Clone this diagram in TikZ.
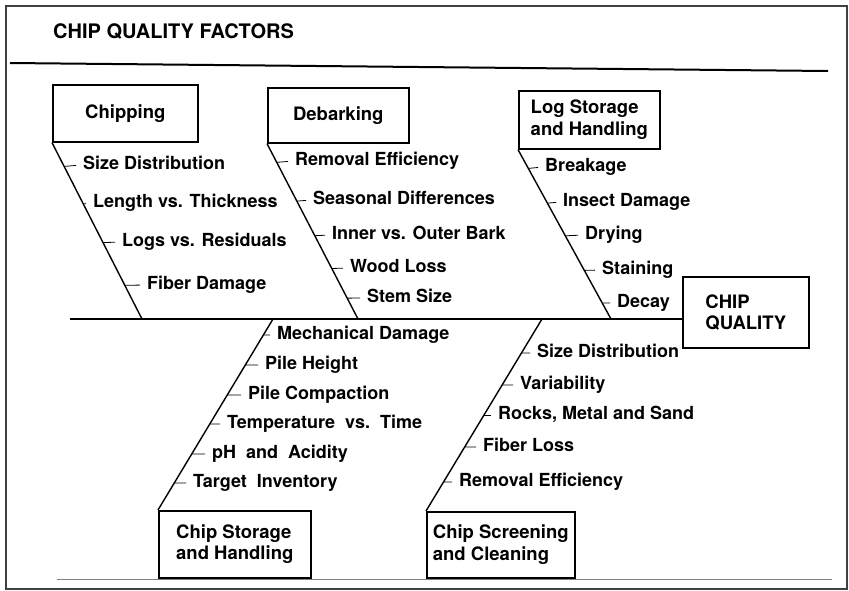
\documentclass[tikz,border=0pt]{standalone}
\usepackage{fontspec}
\setmainfont{TeX Gyre Heros}
\usetikzlibrary{calc}
\tikzset{
   box/.style ={
      rectangle, draw, line width=1.6pt, anchor=north west, align=left,
      font=\fontsize{18.5}{21.5}\selectfont\bfseries,
   },
   bone/.style ={
      -, line width=1.4pt, color=black,
   },
   spine/.style ={
      -, line width=2pt, color=black,
   },
   tick/.style ={
      -, line width=0.8pt, shorten >=5pt,
   },
   item/.style ={
      anchor=west, inner sep=2pt, text height=13pt, text depth=4pt,
      font=\fontsize{18}{21}\selectfont\bfseries,
   },
}

\begin{document}
\begin{tikzpicture}[x=1pt,y=-1pt]

      \useasboundingbox (0,0) rectangle (849,590);
      \draw[line width=1.5pt, black!75] (6,6) rectangle (847,589);

      \node[anchor=west, inner sep=0pt, font=\fontsize{20}{24}\selectfont\bfseries]
         (title) at (53,32) {CHIP QUALITY FACTORS};
      \coordinate (ruleL) at (10,63);
      \coordinate (ruleR) at (828,71);
      \draw[spine] (ruleL) -- (ruleR);
      \coordinate (footL) at (57,579);
      \coordinate (footR) at (832,579);
      \draw[line width=1pt, black!50] (footL) -- (footR);

      % cause boxes
      \node[box, minimum width=145, minimum height=57] (chipping)  at (52,84)  {Chipping};
      \node[box, minimum width=141, minimum height=55] (debarking) at (267,87) {Debarking};
      \node[box, minimum width=141, minimum height=58] (logstore)  at (518,90) {Log Storage\\and Handling};
      \node[box, minimum width=152, minimum height=67] (chipstore) at (158,510) {Chip Storage\\and Handling};
      \node[box, minimum width=148, minimum height=66] (screening) at (426,511) {Chip Screening\\and Cleaning};
      \node[box, minimum width=126, minimum height=71] (quality)   at (682,276) {CHIP\\QUALITY};

      % main spine
      \coordinate (tail) at (70,319);
      \draw[spine] (tail) -- (tail -| quality.west);

      \coordinate (chipEnd) at (142,319);
      \coordinate (debEnd)  at (358,319);
      \coordinate (logEnd)  at (611,319);
      \coordinate (pileEnd) at (273,319);
      \coordinate (scrEnd)  at (542,319);
      \draw[bone] (chipping.south west)  -- (chipEnd);
      \draw[bone] (debarking.south west) -- (debEnd);
      \draw[bone] (logstore.south west)  -- (logEnd);
      \draw[bone] (chipstore.north west) -- (pileEnd);
      \draw[bone] (screening.north west) -- (scrEnd);

      % chipping
      \node[item] (chip1) at (81,165) {Size Distribution};
      \node[item] (chip2) at (91,203) {Length vs. Thickness};
      \node[item] (chip3) at (120,242) {Logs vs. Residuals};
      \node[item] (chip4) at (145,285) {Fiber Damage};
      \draw[tick] ($(chipping.south west)!0.135!(chipEnd)$) -- (chip1.west);
      \draw[tick] ($(chipping.south west)!0.348!(chipEnd)$) -- (chip2.west);
      \draw[tick] ($(chipping.south west)!0.567!(chipEnd)$) -- (chip3.west);
      \draw[tick] ($(chipping.south west)!0.809!(chipEnd)$) -- (chip4.west);

      % debarking
      \node[item] (deb1) at (293,161) {Removal Efficiency};
      \node[item] (deb2) at (311,200) {Seasonal Differences};
      \node[item] (deb3) at (330,235) {Inner vs. Outer Bark};
      \node[item] (deb4) at (348,268) {Wood Loss};
      \node[item] (deb5) at (365,298) {Stem Size};
      \draw[tick] ($(debarking.south west)!0.107!(debEnd)$) -- (deb1.west);
      \draw[tick] ($(debarking.south west)!0.328!(debEnd)$) -- (deb2.west);
      \draw[tick] ($(debarking.south west)!0.525!(debEnd)$) -- (deb3.west);
      \draw[tick] ($(debarking.south west)!0.712!(debEnd)$) -- (deb4.west);
      \draw[tick] ($(debarking.south west)!0.881!(debEnd)$) -- (deb5.west);

      % log storage
      \node[item] (log1) at (543,167) {Breakage};
      \node[item] (log2) at (561,202) {Insect Damage};
      \node[item] (log3) at (583,235) {Drying};
      \node[item] (log4) at (600,270) {Staining};
      \node[item] (log5) at (615,303) {Decay};
      \draw[tick] ($(logstore.south west)!0.111!(logEnd)$) -- (log1.west);
      \draw[tick] ($(logstore.south west)!0.316!(logEnd)$) -- (log2.west);
      \draw[tick] ($(logstore.south west)!0.509!(logEnd)$) -- (log3.west);
      \draw[tick] ($(logstore.south west)!0.713!(logEnd)$) -- (log4.west);
      \draw[tick] ($(logstore.south west)!0.906!(logEnd)$) -- (log5.west);

      % chip storage
      \node[item] (pile1) at (275,335) {Mechanical Damage};
      \node[item] (pile2) at (263,365) {Pile Height};
      \node[item] (pile3) at (246,395) {Pile Compaction};
      \node[item] (pile4) at (225,424) {Temperature~~vs.~~Time};
      \node[item] (pile5) at (210,454) {pH~~and~~Acidity};
      \node[item] (pile6) at (191,483) {Target~~Inventory};
      \draw[tick] ($(chipstore.north west)!0.916!(pileEnd)$) -- (pile1.west);
      \draw[tick] ($(chipstore.north west)!0.759!(pileEnd)$) -- (pile2.west);
      \draw[tick] ($(chipstore.north west)!0.602!(pileEnd)$) -- (pile3.west);
      \draw[tick] ($(chipstore.north west)!0.450!(pileEnd)$) -- (pile4.west);
      \draw[tick] ($(chipstore.north west)!0.293!(pileEnd)$) -- (pile5.west);
      \draw[tick] ($(chipstore.north west)!0.141!(pileEnd)$) -- (pile6.west);

      % chip screening
      \node[item] (scr1) at (535,353) {Size Distribution};
      \node[item] (scr2) at (518,385) {Variability};
      \node[item] (scr3) at (496,415) {Rocks, Metal and Sand};
      \node[item] (scr4) at (481,447) {Fiber Loss};
      \node[item] (scr5) at (457,482) {Removal Efficiency};
      \draw[tick] ($(screening.north west)!0.823!(scrEnd)$) -- (scr1.west);
      \draw[tick] ($(screening.north west)!0.656!(scrEnd)$) -- (scr2.west);
      \draw[tick] ($(screening.north west)!0.500!(scrEnd)$) -- (scr3.west);
      \draw[tick] ($(screening.north west)!0.333!(scrEnd)$) -- (scr4.west);
      \draw[tick] ($(screening.north west)!0.151!(scrEnd)$) -- (scr5.west);

\end{tikzpicture}
\end{document}
